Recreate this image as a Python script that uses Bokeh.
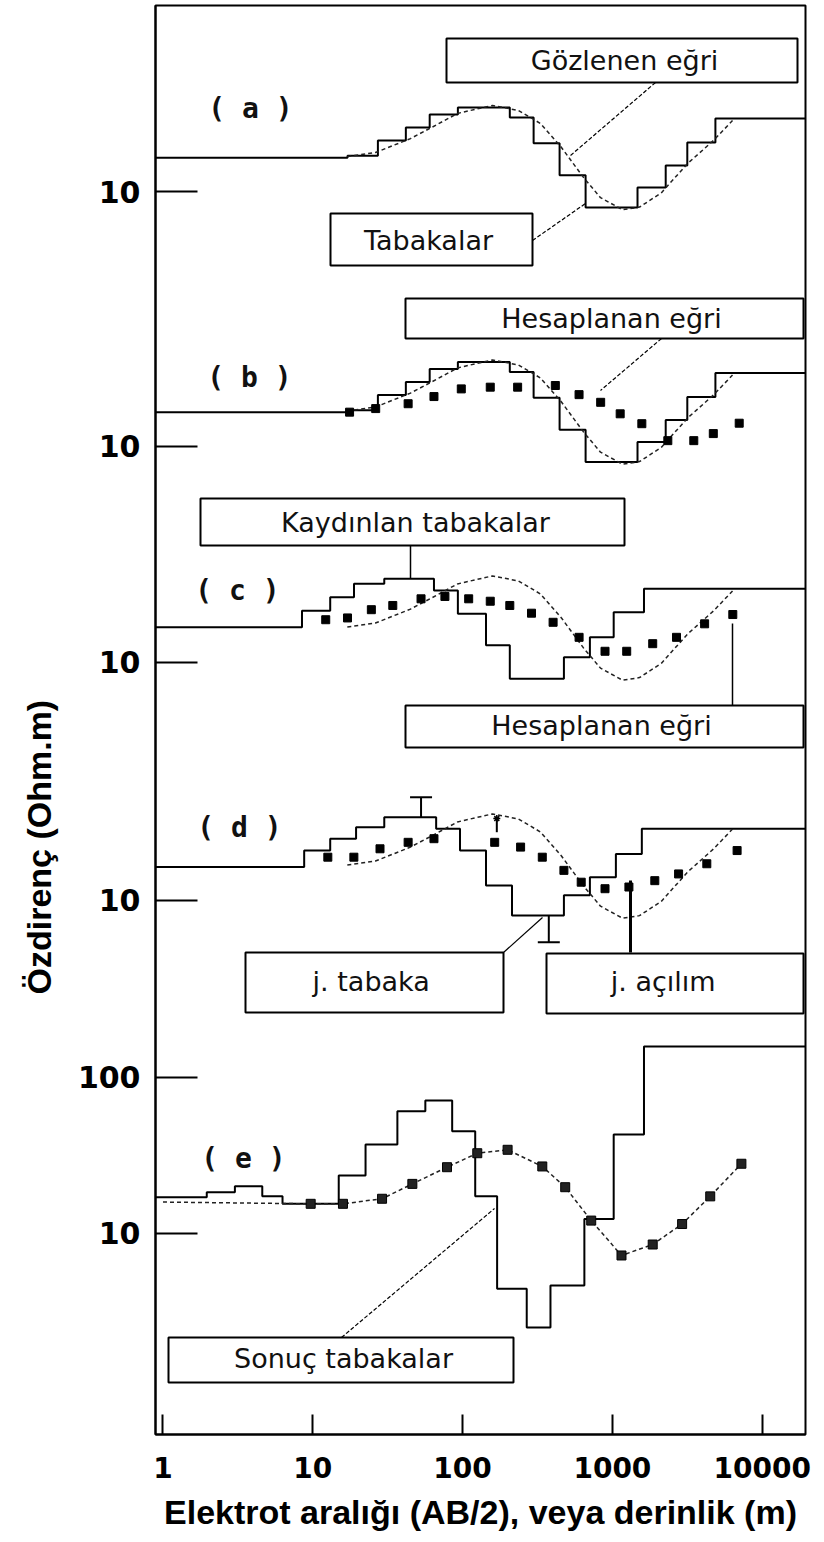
import math
from bokeh.plotting import figure
from bokeh.models import Range1d, FixedTicker, Title
from bokeh.embed import file_html
from bokeh.resources import INLINE
from bokeh.core.properties import value

# ---------------- data: AB/2 (or depth) in m, resistivity in Ohm.m ----------------
# observed sounding curve (drawn dashed in panels a-d)
OBS_AB2 = [17.0, 26.2, 44.9, 62.0, 92.5, 158.4, 236, 331, 457, 641, 833, 1168, 1517, 2127, 3172, 4730, 6336]
OBS_RHO = [16.9, 17.9, 22.0, 25.9, 31.9, 35.9, 33.3, 27.5, 19.3, 12.4, 9.2, 7.7, 8.0, 9.9, 15.2, 21.4, 28.7]

# initial layers taken from the curve (panels a and b): interface depths, layer resistivities
LAYERS_A_DEPTH = [17.05, 27.2, 41.8, 60.3, 93.0, 206.6, 297.9, 444.1, 662.4, 1471, 2269, 3162, 4871]
LAYERS_A_RHO = [16.6, 17.1, 21.4, 25.9, 31.4, 34.8, 30.0, 20.5, 12.8, 7.96, 10.7, 14.8, 20.8, 29.6]

# computed curve for the initial layers (panel b)
CALC_B_AB2 = [17.6, 26.3, 43.3, 64.4, 98, 153, 233, 416, 599, 835, 1127, 1572, 2344, 3494, 4716, 7022]
CALC_B_RHO = [16.6, 17.5, 18.8, 20.9, 23.4, 24.0, 24.0, 24.6, 21.5, 19.2, 16.2, 14.0, 10.9, 10.9, 12.1, 14.1]

# shifted layers and their computed curve (panel c)
LAYERS_C_DEPTH = [8.47, 13.07, 18.84, 30.0, 64.4, 93.0, 143.3, 206.6, 474.6, 707.6, 1020, 1625]
LAYERS_C_RHO = [16.8, 21.5, 26.2, 32.0, 34.4, 28.9, 20.5, 12.9, 7.86, 10.8, 14.5, 21.0, 29.7]
CALC_C_AB2 = [12.2, 17.05, 24.6, 34.2, 52.8, 76.2, 109.8, 153, 206.6, 288.4, 401.9, 599.3, 892.7, 1246, 1858, 2679, 4126, 6364]
CALC_C_RHO = [18.8, 19.3, 21.8, 23.2, 25.6, 26.5, 25.6, 24.7, 23.2, 20.7, 18.1, 14.5, 11.8, 11.8, 13.2, 14.5, 17.7, 20.3]

# adjusted layers and their computed curve (panel d)
LAYERS_D_DEPTH = [8.76, 13.07, 19.45, 30.0, 66.6, 96.1, 143.3, 213.7, 474.6, 707.6, 1055, 1572]
LAYERS_D_RHO = [16.4, 20.9, 24.9, 29.5, 34.2, 28.8, 20.9, 12.5, 8.0, 10.8, 14.1, 19.9, 28.8]
CALC_D_AB2 = [12.6, 18.8, 28.1, 43.3, 64.4, 163.8, 243.9, 340.4, 474.6, 619.1, 892.7, 1289, 1919, 2766, 4268, 6798]
CALC_D_RHO = [18.95, 18.95, 21.45, 23.6, 24.9, 23.6, 22.0, 18.95, 15.6, 13.1, 11.9, 12.2, 13.4, 14.8, 17.2, 20.9]
# correction marks in panel d
ERR_D_AB2 = [52.8, 169.2, 376.2]
ERR_D_FROM = [34.2, 27.4, 8.0]
ERR_D_TO = [45.9, 33.5, 5.4]

# final layers and computed curve (panel e)
LAYERS_E_DEPTH = [1.96, 3.02, 4.6, 6.28, 14.9, 22.5, 36.7, 56.4, 85.2, 121.4, 170, 268, 386, 650, 1020, 1625]
LAYERS_E_RHO = [17.1, 18.4, 20.1, 17.3, 15.5, 23.5, 37.2, 60.8, 71.2, 45.3, 17.3, 4.42, 2.5, 4.64, 12.4, 43.1, 158]
CALC_E_AB2 = [1.0, 9.68, 15.9, 29.0, 46.2, 78.7, 125.3, 199.7, 340.4, 484.2, 722, 1150, 1858, 2920, 4498, 7263]
CALC_E_RHO = [15.9, 15.5, 15.5, 16.7, 20.8, 26.6, 32.7, 34.4, 26.9, 19.8, 12.1, 7.23, 8.5, 11.5, 17.3, 28.0]

# axis ticks
X_TICKS = [1, 10, 100, 1000, 10000]
X_TICK_LABELS = ["1", "10", "100", "1000", "10000"]
Y_TICK_PANELS = ["a", "b", "c", "d", "e", "e"]
Y_TICK_VALUES = [10, 10, 10, 10, 10, 100]

# ---------------- layout (panel stacking, frame geometry) ----------------
W, H = 824, 1542
FRAME_L, FRAME_R, FRAME_T, FRAME_B = 155, 805, 5, 1434
X_LO, X_HI = 0.8913, 19454.0
Y_LOG_LO, Y_LOG_HI = -0.2885, 8.8718
PANEL_SHIFT = {"a": 6.6763, "b": 5.0449, "c": 3.6603, "d": 2.1346, "e": 0.0}


def px2x(px):
    lx0, lx1 = math.log10(X_LO), math.log10(X_HI)
    return 10 ** (lx0 + (px - FRAME_L) / (FRAME_R - FRAME_L) * (lx1 - lx0))


def py2y(py):
    return 10 ** (Y_LOG_HI - (py - FRAME_T) / (FRAME_B - FRAME_T) * (Y_LOG_HI - Y_LOG_LO))


def shown(vals, panel):
    return [v * 10 ** PANEL_SHIFT[panel] for v in vals]


def stair(depths, rhos):
    xs = [X_LO * 0.9] + list(depths) + [X_HI * 1.1]
    ys = list(rhos) + [rhos[-1]]
    return xs, ys


p = figure(width=W, height=H, x_axis_type="log", y_axis_type="log",
           x_range=Range1d(X_LO, X_HI),
           y_range=Range1d(10 ** Y_LOG_LO, 10 ** Y_LOG_HI),
           output_backend="svg", toolbar_location=None,
           min_border_left=FRAME_L, min_border_right=W - FRAME_R,
           min_border_top=FRAME_T, min_border_bottom=H - FRAME_B)
p.grid.visible = False
p.outline_line_color = "black"
p.outline_line_width = 2
p.background_fill_color = "white"
p.border_fill_color = "white"

# x axis
p.xaxis.ticker = FixedTicker(ticks=X_TICKS, minor_ticks=[])
p.xaxis.major_label_overrides = {t: l for t, l in zip(X_TICKS, X_TICK_LABELS)}
p.xaxis.major_tick_in = 20
p.xaxis.major_tick_out = 0
p.xaxis.major_tick_line_width = 2
p.xaxis.major_tick_line_color = "black"
p.xaxis.axis_line_width = 2
p.xaxis.axis_line_color = "black"
p.xaxis.major_label_text_font = "DejaVu Sans"
p.xaxis.major_label_text_font_style = "bold"
p.xaxis.major_label_text_font_size = "28px"
p.xaxis.major_label_text_color = "black"
p.xaxis.major_label_standoff = 22
p.xaxis.axis_label = "Elektrot aralığı (AB/2), veya derinlik (m)"
p.xaxis.axis_label_text_font = "Liberation Sans"
p.xaxis.axis_label_text_font_style = "bold"
p.xaxis.axis_label_text_font_size = "34px"
p.xaxis.axis_label_text_color = "black"
p.xaxis.axis_label_standoff = 12

# y axis (one "10" per panel, plus "100" in panel e)
y_ticks = [v * 10 ** PANEL_SHIFT[pn] for v, pn in zip(Y_TICK_VALUES, Y_TICK_PANELS)]
p.yaxis.ticker = FixedTicker(ticks=y_ticks, minor_ticks=[])
p.yaxis.major_label_overrides = {t: str(v) for t, v in zip(y_ticks, Y_TICK_VALUES)}
p.yaxis.major_tick_in = 42
p.yaxis.major_tick_out = 0
p.yaxis.major_tick_line_width = 2
p.yaxis.major_tick_line_color = "black"
p.yaxis.axis_line_width = 2
p.yaxis.axis_line_color = "black"
p.yaxis.major_label_text_font = "DejaVu Sans"
p.yaxis.major_label_text_font_style = "bold"
p.yaxis.major_label_text_font_size = "30px"
p.yaxis.major_label_text_color = "black"
p.yaxis.major_label_standoff = 15

# y-axis title placed along the left side, lower than centre as in the original
p.add_layout(Title(text="Özdirenç   (Ohm.m)", align="left", vertical_align="top",
                   offset=440, standoff=30, text_font="Liberation Sans",
                   text_font_style="bold", text_font_size="34px",
                   text_color="black"), "left")

STAIR = dict(line_color="black", line_width=2, mode="after")
CURVE = dict(line_color="#222222", line_width=1.5, line_dash="4 3")
SQ = dict(marker="square", size=8, fill_color="black", line_color="black")

# (a) layers + observed curve
xs, ys = stair(LAYERS_A_DEPTH, LAYERS_A_RHO)
p.step(xs, shown(ys, "a"), **STAIR)
p.line(OBS_AB2, shown(OBS_RHO, "a"), **CURVE)

# (b) layers + observed + computed
xs, ys = stair(LAYERS_A_DEPTH, LAYERS_A_RHO)
p.step(xs, shown(ys, "b"), **STAIR)
p.line(OBS_AB2, shown(OBS_RHO, "b"), **CURVE)
p.scatter(CALC_B_AB2, shown(CALC_B_RHO, "b"), **SQ)

# (c) shifted layers
xs, ys = stair(LAYERS_C_DEPTH, LAYERS_C_RHO)
p.step(xs, shown(ys, "c"), **STAIR)
p.line(OBS_AB2, shown(OBS_RHO, "c"), **CURVE)
p.scatter(CALC_C_AB2, shown(CALC_C_RHO, "c"), **SQ)

# (d) adjusted layers
xs, ys = stair(LAYERS_D_DEPTH, LAYERS_D_RHO)
p.step(xs, shown(ys, "d"), **STAIR)
p.line(OBS_AB2, shown(OBS_RHO, "d"), **CURVE)
p.scatter(CALC_D_AB2, shown(CALC_D_RHO, "d"), **SQ)
p.segment(ERR_D_AB2, shown(ERR_D_FROM, "d"), ERR_D_AB2, shown(ERR_D_TO, "d"),
          line_color="black", line_width=2)
p.scatter([ERR_D_AB2[0], ERR_D_AB2[2]], shown([ERR_D_TO[0], ERR_D_TO[2]], "d"),
          marker="dash", size=22, line_color="black", line_width=2)
p.scatter([ERR_D_AB2[1]], shown([ERR_D_TO[1]], "d"), marker="asterisk", size=7,
          line_color="black", line_width=1.5)

# (e) final layers + computed curve
xs, ys = stair(LAYERS_E_DEPTH, LAYERS_E_RHO)
p.step(xs, shown(ys, "e"), **STAIR)
p.line(CALC_E_AB2, shown(CALC_E_RHO, "e"), **CURVE)
p.scatter(CALC_E_AB2[1:], shown(CALC_E_RHO[1:], "e"), marker="square", size=9,
          fill_color="#222222", line_color="black")

# ---------------- callouts ----------------
LEADERS = [  # x0, y0, x1, y1 (page px), dash, width
    (655, 82, 570, 155, "4 2", 1.2),
    (532, 240, 585, 203, "4 2", 1.2),
    (661, 338, 600, 390, "4 2", 1.2),
    (410, 545, 410, 578, "solid", 1.5),
    (732, 623, 732, 705, "solid", 1.5),
    (503, 952, 542, 917, "solid", 1.2),
    (630, 880, 630, 952, "solid", 3),
    (341, 1337, 494, 1208, "4 2", 1.2),
]
for x0, y0, x1, y1, dash, w in LEADERS:
    p.segment([px2x(x0)], [py2y(y0)], [px2x(x1)], [py2y(y1)],
              line_color="black", line_width=w, line_dash=dash)

BOXES = [  # left, right, top, bottom (page px), text, text centre x, y
    (446, 797, 38, 82, "Gözlenen eğri", 624, 60),
    (330, 532, 213, 265, "Tabakalar", 428, 240),
    (405, 803, 298, 338, "Hesaplanan eğri", 611, 318),
    (200, 624, 498, 545, "Kaydınlan tabakalar", 415, 522),
    (405, 803, 705, 747, "Hesaplanan eğri", 601, 725),
    (245, 503, 952, 1012, "j.  tabaka", 375, 981),
    (546, 803, 953, 1013, "j.  açılım", 667, 981),
    (168, 513, 1337, 1382, "Sonuç tabakalar", 343, 1358),
]
p.quad(left=[px2x(b[0]) for b in BOXES], right=[px2x(b[1]) for b in BOXES],
       top=[py2y(b[2]) for b in BOXES], bottom=[py2y(b[3]) for b in BOXES],
       fill_color="white", line_color="black", line_width=2)
p.text(x=[px2x(b[5]) for b in BOXES], y=[py2y(b[6]) for b in BOXES],
       text=[b[4] for b in BOXES], text_font=value("DejaVu Sans"),
       text_font_size="27px", text_align="center", text_baseline="middle",
       text_color="#111111")

PANEL_LABELS = [("( a )", 250, 108), ("( b )", 249, 377), ("( c )", 237, 590),
                ("( d )", 239, 827), ("( e )", 243, 1158)]
p.text(x=[px2x(t[1]) for t in PANEL_LABELS], y=[py2y(t[2]) for t in PANEL_LABELS],
       text=[t[0] for t in PANEL_LABELS], text_font=value("DejaVu Sans Mono"),
       text_font_style="bold", text_font_size="28px", text_align="center",
       text_baseline="middle", text_color="#111111")

open("out.html", "w").write(file_html(p, INLINE))
